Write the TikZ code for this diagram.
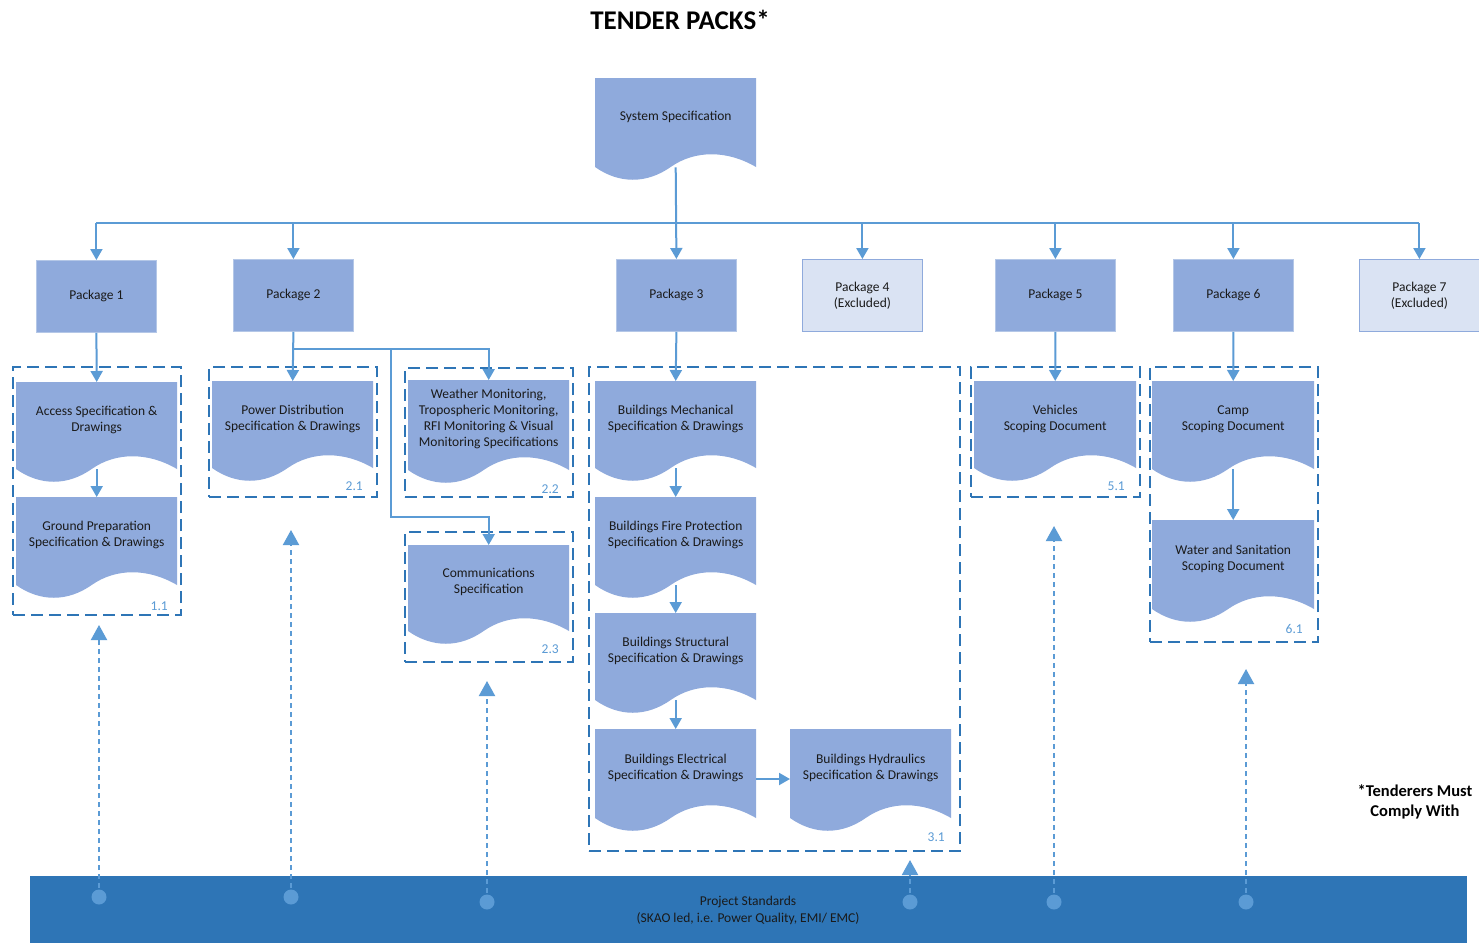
\documentclass[tikz,border=0pt]{standalone}
\usepackage{fontspec}
\setmainfont{Carlito}
\usetikzlibrary{arrows.meta,calc}
\definecolor{docblue}{HTML}{8FAADC}
\definecolor{pkglight}{HTML}{DAE3F3}
\definecolor{pkgedge}{HTML}{B4C7E7}
\definecolor{lineblue}{HTML}{5B9BD5}
\definecolor{grpblue}{HTML}{2E75B6}
\definecolor{barblue}{HTML}{2E75B6}
\definecolor{txt}{HTML}{1A1A1A}
\tikzset{
  docfill/.style={fill=docblue},
  doctext/.style={font=\fontsize{13.5}{16}\selectfont, align=center, text=txt, inner sep=0pt},
  docrect/.style={inner sep=0pt, anchor=north west},
  pkg/.style={fill=docblue, draw=pkgedge, line width=0.8pt, minimum width=120pt, minimum height=72pt,
    font=\fontsize{13.5}{16}\selectfont, align=center, text=txt, anchor=north west, inner sep=0pt},
  pkgx/.style={pkg, fill=pkglight, draw=docblue},
  grp/.style={draw=grpblue, line width=2.2pt, dash pattern=on 12pt off 6pt, anchor=north west, inner sep=0pt},
  grplbl/.style={text=lineblue, font=\fontsize{13.5}{16}\selectfont, anchor=east, inner sep=0pt},
  conn/.style={draw=lineblue, line width=2pt},
  arr/.style={conn, -{Triangle[width=12pt,length=11pt]}},
  dotarr/.style={draw=lineblue, line width=2pt, dash pattern=on 5pt off 4pt, -{Triangle[width=16pt,length=15pt]}},
  dotnode/.style={circle, fill=lineblue, inner sep=0pt, minimum size=15pt},
}
% name, x, y, w, h, text
\newcommand\docshape[6]{%
  \begin{scope}[shift={(#2,#3)}]
    \fill[docfill] (0,0) -- (#4,0) -- (#4,#5)
      .. controls ({0.82*#4},{#5-17}) and ({0.62*#4},{#5-17}) .. ({0.47*#4},#5)
      .. controls ({0.32*#4},{#5+17}) and ({0.15*#4},{#5+17}) .. (0,#5) -- cycle;
    \node[docrect, minimum width=#4pt, minimum height=#5pt] (#1) at (0,0) {};
  \end{scope}
  \node[doctext, yshift=6pt] (#1-t) at (#1.center) {#6};
}
\begin{document}
\begin{tikzpicture}[x=1pt,y=-1pt]
\useasboundingbox[fill=white] (0,0) rectangle (1479,943);

% title
\node[font=\bfseries\fontsize{27}{30}\selectfont, text=black] (title) at (680,20) {TENDER PACKS*};

% system spec
\docshape{sys}{595}{78}{161}{89}{System Specification}

% packages
\node[pkg] (pk1) at (36,260) {Package 1};
\node[pkg] (pk2) at (233,259) {Package 2};
\node[pkg] (pk3) at (616,259) {Package 3};
\node[pkgx] (pk4) at (802,259) {Package 4\\(Excluded)};
\node[pkg] (pk5) at (995,259) {Package  5};
\node[pkg] (pk6) at (1173,259) {Package  6};
\node[pkgx] (pk7) at (1359,259) {Package 7\\(Excluded)};

% group boxes
\node[grp, minimum width=168pt, minimum height=248pt] (g11) at (12,366) {};
\node[grp, minimum width=168pt, minimum height=130pt] (g21) at (208,366) {};
\node[grp, minimum width=168pt, minimum height=129pt] (g22) at (404,367) {};
\node[grp, minimum width=168pt, minimum height=130pt] (g23) at (404,531) {};
\node[grp, minimum width=371pt, minimum height=484pt] (g31) at (588,366) {};
\node[grp, minimum width=169pt, minimum height=130pt] (g51) at (970,366) {};
\node[grp, minimum width=168pt, minimum height=275pt] (g61) at (1149,366) {};

\node[grplbl] (l11) at (168,606) {1.1};
\node[grplbl] (l21) at (363,486) {2.1};
\node[grplbl] (l22) at (559,489) {2.2};
\node[grplbl] (l23) at (559,649) {2.3};
\node[grplbl] (l31) at (945,837) {3.1};
\node[grplbl] (l51) at (1125,486) {5.1};
\node[grplbl] (l61) at (1303,629) {6.1};

% documents
\docshape{acc}{16}{382}{161}{87}{Access Specification \&\\Drawings}
\docshape{gnd}{16}{497}{161}{88}{Ground Preparation\\Specification \& Drawings}
\docshape{pd}{212}{381}{161}{87}{Power Distribution\\Specification \& Drawings}
\docshape{wx}{408}{380}{161}{90}{Weather Monitoring,\\Tropospheric Monitoring,\\RFI Monitoring \& Visual\\Monitoring Specifications}
\docshape{comm}{408}{545}{161}{86}{Communications\\Specification}
\docshape{mech}{595}{381}{161}{87}{Buildings Mechanical\\Specification \& Drawings}
\docshape{fire}{595}{497}{161}{88}{Buildings Fire Protection\\Specification \& Drawings}
\docshape{str}{595}{613}{161}{87}{Buildings Structural\\Specification \& Drawings}
\docshape{elec}{595}{729}{161}{89}{Buildings Electrical\\Specification \& Drawings}
\docshape{hyd}{790}{729}{161}{89}{Buildings Hydraulics\\Specification \& Drawings}
\docshape{veh}{974}{381}{162}{87}{Vehicles\\Scoping Document}
\docshape{camp}{1152}{381}{162}{88}{Camp\\Scoping Document}
\docshape{wat}{1152}{520}{162}{89}{Water and Sanitation\\Scoping Document}

% top distribution
\coordinate (bus) at (676,223);
\draw[conn] (pk1.north |- bus) -- (pk7.north |- bus);
\draw[arr] (sys.south) -- (pk3.north);
\foreach \p in {pk1,pk2,pk4,pk5,pk6,pk7}{\draw[arr] (\p.north |- bus) -- (\p.north);}

% package 1
\draw[arr] (pk1.south) -- (acc.north);
\draw[arr] (acc.south) -- (gnd.north);
% package 2
\coordinate (j2) at (391,349);
\coordinate (k2) at (391,517);
\draw[arr] (pk2.south) -- (pd.north);
\draw[arr] (pk2.south |- j2) -| (wx.north);
\draw[arr] (j2) -- (k2) -| (comm.north);
% package 3
\draw[arr] (pk3.south) -- (mech.north);
\draw[arr] (mech.south) -- (fire.north);
\draw[arr] (fire.south) -- (str.north);
\draw[arr] (str.south) -- (elec.north);
\coordinate (eh) at (773,779);
\draw[arr] (elec.east |- eh) -- (hyd.west |- eh);
% package 5, 6
\draw[arr] (pk5.south) -- (veh.north);
\draw[arr] (pk6.south) -- (camp.north);
\draw[arr] (camp.south) -- (wat.north);

% bottom bar
\node[fill=barblue, minimum width=1437pt, minimum height=67pt, anchor=north west, inner sep=0pt] (bar) at (30,876) {};
\node[font=\fontsize{13.5}{17}\selectfont, align=center, text=txt] (bartext) at (748,910) {Project Standards\\(SKAO led, i.e. Power Quality, EMI/ EMC)};

% comply-with arrows
\node[dotnode] (d1) at (99,897) {};
\node[dotnode] (d2) at (291,897) {};
\node[dotnode] (d3) at (487,902) {};
\node[dotnode] (d4) at (910,902) {};
\node[dotnode] (d5) at (1054,902) {};
\node[dotnode] (d6) at (1246,902) {};
\coordinate (t1) at (99,625);
\coordinate (t2) at (291,530);
\coordinate (t3) at (487,681);
\coordinate (t4) at (910,860);
\coordinate (t5) at (1054,526);
\coordinate (t6) at (1246,669);
\foreach \i in {1,...,6}{\draw[dotarr] (d\i.center) -- (t\i);}

% note
\node[font=\bfseries\fontsize{16.5}{20}\selectfont, align=center, text=black] (note) at (1415,802) {*Tenderers Must\\Comply With};
\end{tikzpicture}
\end{document}
